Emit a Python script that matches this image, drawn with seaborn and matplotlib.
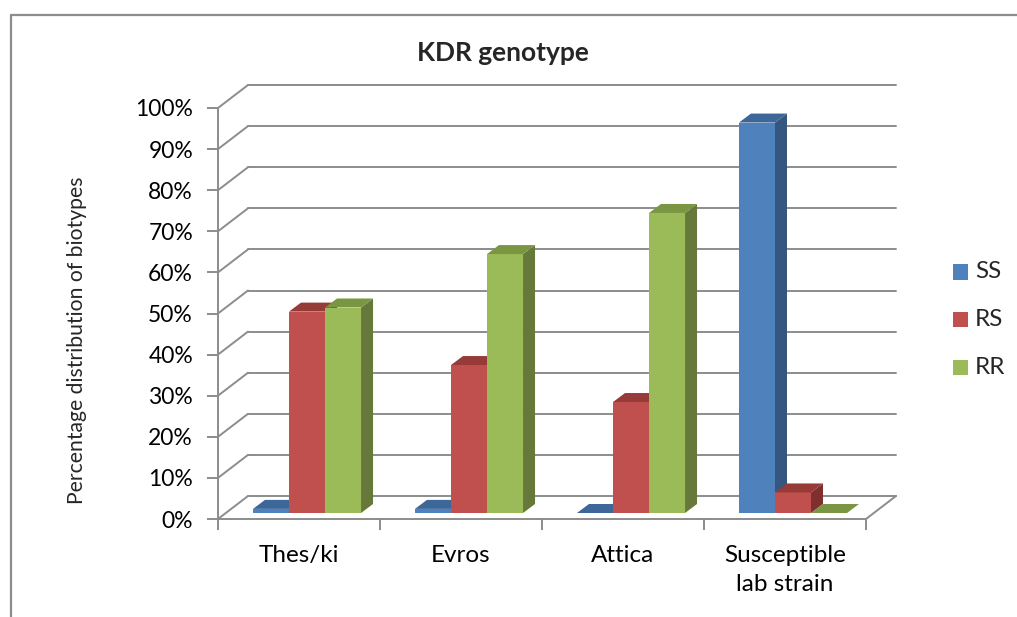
import matplotlib
matplotlib.use("Agg")
import matplotlib.pyplot as plt
import matplotlib.colors as mcolors
from matplotlib.patches import Polygon, Rectangle
from matplotlib.transforms import ScaledTranslation
from matplotlib.lines import Line2D
import pandas as pd
import seaborn as sns

# --- data -----------------------------------------------------------------
sites = ["Thes/ki", "Evros", "Attica", "Susceptible\nlab strain"]
genotypes = ["SS", "RS", "RR"]
ss_pct = [1, 1, 0, 95]
rs_pct = [49, 36, 27, 5]
rr_pct = [50, 63, 73, 0]
y_ticks = [0, 10, 20, 30, 40, 50, 60, 70, 80, 90, 100]

front_colors = ["#4F81BD", "#C0504D", "#9BBB59"]
top_colors = ["#3D6699", "#963B38", "#7A9643"]
side_colors = ["#34567F", "#7F302E", "#66793A"]

df = pd.DataFrame({
    "site": sites * 3,
    "genotype": [g for g in genotypes for _ in sites],
    "pct": ss_pct + rs_pct + rr_pct,
})

# --- figure ---------------------------------------------------------------
W, H, DPI = 1017, 617, 100
sns.set_theme(style="white")
plt.rcParams["font.family"] = ["Lato", "DejaVu Sans"]
fig = plt.figure(figsize=(W / DPI, H / DPI), dpi=DPI)

# front plane of the plot box, in pixels
L, R, B, T = 218, 866, 519, 108
ax = fig.add_axes([L / W, (H - B) / H, (R - L) / W, (B - T) / H])
ax.set_xlim(-0.5, 3.5)
ax.set_ylim(0, 100)
for s in ax.spines.values():
    s.set_visible(False)
ax.patch.set_alpha(0)

sx = (R - L) / 4.0     # px per category
sy = (B - T) / 100.0   # px per percent


def off(dx, dy):
    """pixel offset -> data offset (dy measured upward)"""
    return dx / sx, dy / sy


grid_c = "#8C8C8C"
glw = 1.4
wall = off(30, 23)      # depth of the back wall
front = off(8, 6)       # depth of the bars' front faces
depth = off(12, 9)      # thickness of the bars

# side wall and back wall gridlines
for v in y_ticks:
    ax.add_line(Line2D([-0.5, -0.5 + wall[0]], [v, v + wall[1]], color=grid_c,
                       lw=glw, clip_on=False, zorder=1))
    ax.add_line(Line2D([-0.5 + wall[0], 3.5 + wall[0]], [v + wall[1], v + wall[1]],
                       color=grid_c, lw=glw, clip_on=False, zorder=1))
# floor edges
ax.add_line(Line2D([3.5, 3.5 + wall[0]], [0, wall[1]], color=grid_c, lw=glw,
                   clip_on=False, zorder=1))
ax.add_line(Line2D([-0.5, 3.5], [0, 0], color=grid_c, lw=glw, clip_on=False, zorder=20))
ax.add_line(Line2D([-0.5, -0.5], [0, 100], color=grid_c, lw=glw, clip_on=False, zorder=20))

# --- bars -----------------------------------------------------------------
sns.barplot(data=df, x="site", y="pct", hue="genotype", hue_order=genotypes,
            order=sites, palette=front_colors, width=0.667, saturation=1,
            linewidth=0, legend=False, ax=ax)
ax.set_xlim(-0.5, 3.5)
ax.set_ylim(0, 100)

shift = ScaledTranslation(8 / DPI, 6 / DPI, fig.dpi_scale_trans)
hex_front = [c.lower() for c in front_colors]
bars = sorted([p for p in ax.patches if isinstance(p, Rectangle)],
              key=lambda p: p.get_x())
for k, p in enumerate(bars):
    gi = hex_front.index(mcolors.to_hex(p.get_facecolor()))
    x0, w, h = p.get_x(), p.get_width(), p.get_height()
    z = 5 + k
    p.set_transform(ax.transData + shift)
    p.set_zorder(z)
    fx, fy = front
    dx, dy = depth
    top = [(x0 + fx, h + fy), (x0 + w + fx, h + fy),
           (x0 + w + fx + dx, h + fy + dy), (x0 + fx + dx, h + fy + dy)]
    side = [(x0 + w + fx, fy), (x0 + w + fx + dx, fy + dy),
            (x0 + w + fx + dx, h + fy + dy), (x0 + w + fx, h + fy)]
    ax.add_patch(Polygon(side, closed=True, fc=side_colors[gi], ec="none",
                         clip_on=False, zorder=z))
    ax.add_patch(Polygon(top, closed=True, fc=top_colors[gi], ec="none",
                         clip_on=False, zorder=z))
    p.set_clip_on(False)

# --- axes text --------------------------------------------------------------
ax.set_yticks(y_ticks)
ax.set_yticklabels([f"{v}%" for v in y_ticks], fontsize=16.5, color="black")
ax.tick_params(axis="y", length=8, width=glw, color=grid_c, pad=10, left=True)
ax.set_xticks(range(len(sites)))
ax.set_xticklabels(sites, fontsize=17.5, color="black", linespacing=1.45)
ax.tick_params(axis="x", which="major", length=0, pad=19)
ax.set_xticks([-0.5, 0.5, 1.5, 2.5, 3.5], minor=True)
ax.tick_params(axis="x", which="minor", length=8, width=glw, color=grid_c,
               bottom=True)
ax.set_xlabel("")
ax.set_ylabel("Percentage distribution of biotypes", fontsize=15.2)
ax.yaxis.set_label_coords((87 - L) / (R - L), (B - 340) / (B - T))

fig.text(503 / W, 1 - 53 / H, "KDR genotype", ha="center", va="center",
         fontsize=19, fontweight="bold")

# legend
for g, c, yc in zip(genotypes, front_colors, [272, 319, 367]):
    fig.patches.append(Rectangle((953 / W, 1 - (yc + 7.5) / H), 15 / W, 15 / H,
                                 transform=fig.transFigure, fc=c, ec="none"))
    fig.text(975 / W, 1 - yc / H, g, ha="left", va="center", fontsize=17.5)

# outer chart frame
fig.add_artist(Line2D([11 / W, 11 / W], [0, 1 - 15 / H], transform=fig.transFigure,
                      color=grid_c, lw=1.6))
fig.add_artist(Line2D([11 / W, 1], [1 - 15 / H, 1 - 15 / H], transform=fig.transFigure,
                      color=grid_c, lw=1.6))

fig.savefig("out.png", dpi=DPI)
